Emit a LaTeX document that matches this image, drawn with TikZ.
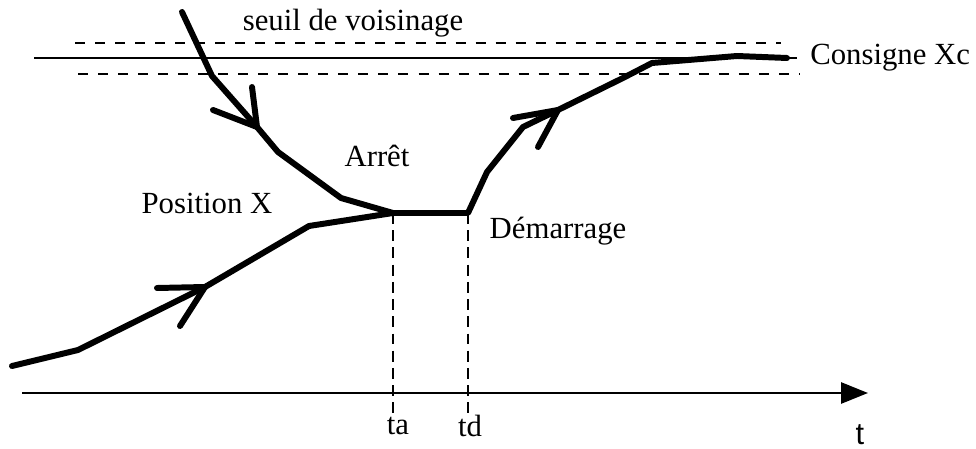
\documentclass[tikz,border=0pt]{standalone}
\usepackage{fontspec}
\setmainfont{Liberation Serif}
\newfontfamily\axefont{Liberation Sans}
\usetikzlibrary{positioning,arrows.meta}

\begin{document}
\begin{tikzpicture}[
  x=0.02cm, y=-0.02cm,
  every node/.style={font=\fontsize{17.5}{20}\selectfont, inner sep=0pt},
  curve/.style={line width=3.4pt, line join=round, line cap=round},
  barb/.style={line width=3.4pt, line cap=round},
  seuil/.style={line width=1.6pt, dash pattern=on 5.7pt off 5.7pt},
  repere/.style={line width=1.6pt, dash pattern=on 6.2pt off 3.6pt},
  axe/.style={line width=1.6pt, -{Triangle[length=0.54cm, width=0.42cm]}}
]
  \useasboundingbox (0,0) rectangle (976,449);

  % consigne et seuil
  \coordinate (c0) at (34,58);
  \coordinate (c1) at (797,58);
  \coordinate (su0) at (75,43);
  \coordinate (su1) at (781,43);
  \coordinate (si0) at (78,74);
  \coordinate (si1) at (800,74);
  \draw[line width=1.4pt] (c0) -- (c1);
  \draw[seuil] (su0) -- (su1);
  \draw[seuil] (si0) -- (si1);
  \node[right=0.26cm of c1] (xc) {Consigne Xc};
  \node (sv) at (353,23) {seuil de voisinage};

  % axe du temps
  \coordinate (o) at (22,393);
  \coordinate (tmax) at (868,393);
  \draw[axe] (o) -- (tmax);
  \node (t) at (860,435) {\axefont t};

  % arret et demarrage
  \coordinate (a) at (393,213);
  \coordinate (d) at (468,213);
  \coordinate (a1) at (393,414);
  \coordinate (d1) at (468,414);
  \draw[repere] (a) -- (a1);
  \draw[repere] (d) -- (d1);
  \node (ta) at (398,426) {ta};
  \node (td) at (470,426) {td};

  % trajectoires
  \draw[curve] (182,12) -- (212,76) -- (257,127) -- (278,152) -- (341,198) -- (a);
  \draw[curve] (12,366) -- (78,350) -- (205,287) -- (309,226) -- (a);
  \draw[curve] (a) -- (d) -- (487,172) -- (523,127) -- (558,110) -- (623,78)
    -- (652,63) -- (737,56) -- (787,58);

  % fleches
  \draw[barb] (213,110) -- (257,127) -- (252,87);
  \draw[barb] (157,288) -- (205,287) -- (180,326);
  \draw[barb] (513,118) -- (558,110) -- (538,147);

  \node (arret) at (377,156) {Arrêt};
  \node (pos) at (207,203) {Position X};
  \node (dem) at (558,231) {Démarrage};
\end{tikzpicture}
\end{document}
